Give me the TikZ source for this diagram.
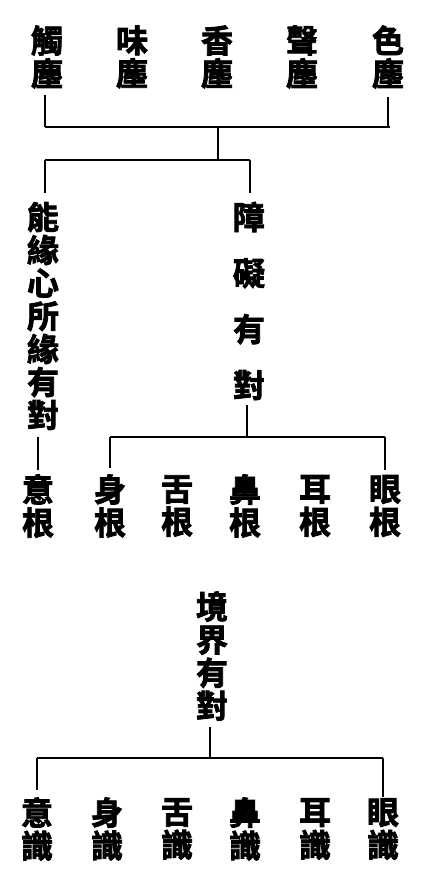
\documentclass[tikz,border=0pt]{standalone}
\usepackage{fontspec}
\newfontfamily\cjk{Noto Sans CJK TC}[BoldFont={* Bold},BoldFeatures={FakeBold=2.5}]
\begin{document}
\begin{tikzpicture}[x=1pt,y=-1pt,
  lbl/.style={inner sep=0pt, align=center, font=\cjk\bfseries\fontsize{32}{33}\selectfont},
  ln/.style={line width=1.7pt},
  bar/.style={line width=1.3pt}]
\useasboundingbox (0,0) rectangle (426,894);
% top row
\node[lbl] (t1) at (47,57) {觸\\塵};
\node[lbl] (t2) at (132,57) {味\\塵};
\node[lbl] (t3) at (217,57) {香\\塵};
\node[lbl] (t4) at (302,57) {聲\\塵};
\node[lbl] (t5) at (388,57) {色\\塵};
\coordinate (b1l) at (45,127);
\coordinate (b1r) at (390,127);
\coordinate (b1m) at (218,127);
\draw[ln] (45,95) -- (b1l);
\draw[ln] (388,97) -- (388,127);
\draw[bar] (b1l) -- (b1r);
\coordinate (b2m) at (218,160);
\coordinate (b2l) at (45,160);
\coordinate (b2r) at (250,160);
\draw[ln] (b1m) -- (b2m);
\draw[bar] (b2l) -- (b2r);
% middle labels
\node[lbl] (L) at (43,316) {能\\緣\\心\\所\\緣\\有\\對};
\node[lbl] (R) at (249,301) {障\\[23pt]礙\\[23pt]有\\[23pt]對};
\draw[ln] (b2l) -- (45,193);
\draw[ln] (b2r) -- (250,193);
% bar3
\coordinate (b3l) at (110,437);
\coordinate (b3r) at (385,437);
\draw[ln] (247,405) -- (247,437);
\draw[bar] (b3l) -- (b3r);
\draw[ln] (b3l) -- (110,468);
\draw[ln] (b3r) -- (385,470);
\draw[ln] (38,437) -- (38,470);
% roots
\node[lbl] (r1) at (38,506) {意\\根};
\node[lbl] (r2) at (110,506) {身\\根};
\node[lbl] (r3) at (177,506) {舌\\根};
\node[lbl] (r4) at (245,506) {鼻\\根};
\node[lbl] (r5) at (315,506) {耳\\根};
\node[lbl] (r6) at (385,506) {眼\\根};
% section 3
\node[lbl] (J) at (212,656) {境\\界\\有\\對};
\coordinate (b4l) at (37,758);
\coordinate (b4r) at (383,758);
\draw[ln] (210,727) -- (210,758);
\draw[bar] (b4l) -- (b4r);
\draw[ln] (b4l) -- (37,790);
\draw[ln] (b4r) -- (383,797);
\node[lbl] (c1) at (37,829) {意\\識};
\node[lbl] (c2) at (107,829) {身\\識};
\node[lbl] (c3) at (177,829) {舌\\識};
\node[lbl] (c4) at (245,829) {鼻\\識};
\node[lbl] (c5) at (315,829) {耳\\識};
\node[lbl] (c6) at (383,829) {眼\\識};
\end{tikzpicture}
\end{document}
